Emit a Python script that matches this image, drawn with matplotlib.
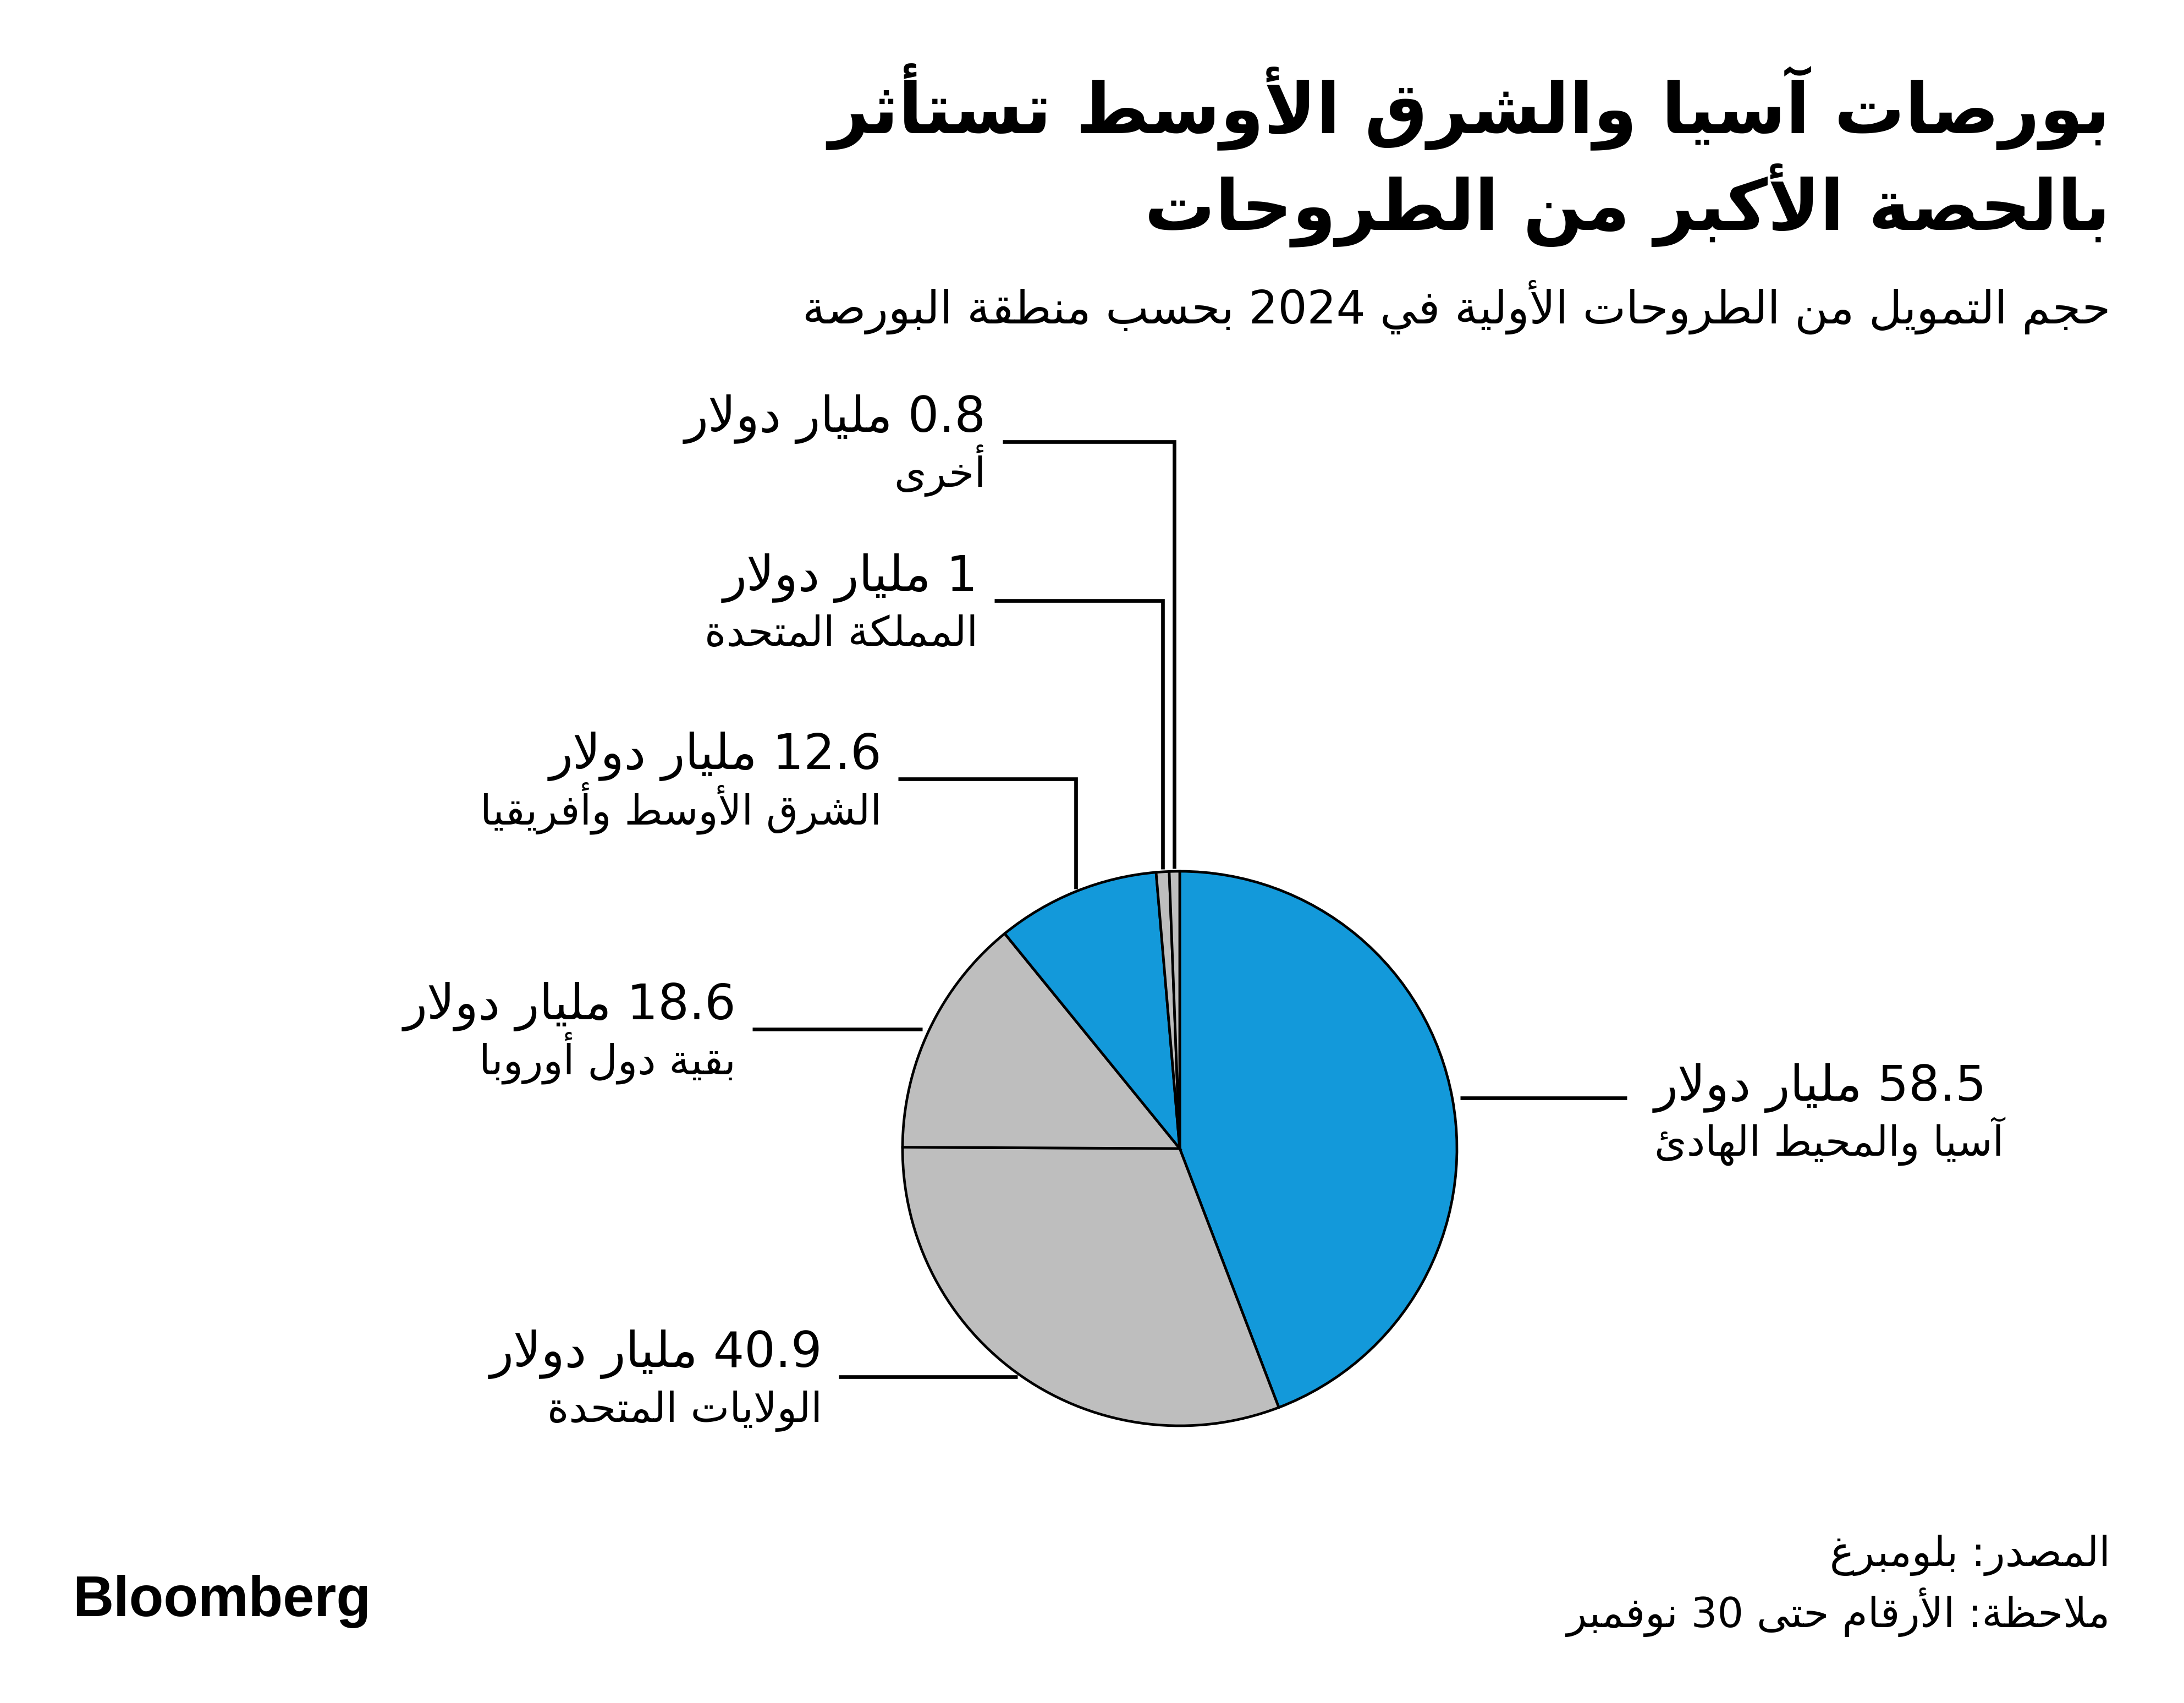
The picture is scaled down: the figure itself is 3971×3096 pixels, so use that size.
import re
import numpy as np
import matplotlib
matplotlib.use("Agg")
import matplotlib.pyplot as plt

# data
regions = ["آسيا والمحيط الهادئ", "الولايات المتحدة", "بقية دول أوروبا",
           "الشرق الأوسط وأفريقيا", "المملكة المتحدة", "أخرى"]
values = [58.5, 40.9, 18.6, 12.6, 1.0, 0.8]
value_labels = ["58.5", "40.9", "18.6", "12.6", "1", "0.8"]
colors = ["#1399DA", "#BEBEBE", "#BEBEBE", "#1399DA", "#BEBEBE", "#BEBEBE"]

title = ["بورصات آسيا والشرق الأوسط تستأثر", "بالحصة الأكبر من الطروحات"]
subtitle = "حجم التمويل من الطروحات الأولية في 2024 بحسب منطقة البورصة"
source = "المصدر: بلومبرغ"
note = "ملاحظة: الأرقام حتى 30 نوفمبر"
unit = "مليار دولار"

# simple arabic shaping (matplotlib has no complex text layout)
FORMS = {
    '\u0621': (0xFE80, 0), '\u0622': (0xFE81, 1), '\u0623': (0xFE83, 1),
    '\u0624': (0xFE85, 1), '\u0625': (0xFE87, 1), '\u0626': (0xFE89, 2),
    '\u0627': (0xFE8D, 1), '\u0628': (0xFE8F, 2), '\u0629': (0xFE93, 1),
    '\u062A': (0xFE95, 2), '\u062B': (0xFE99, 2), '\u062C': (0xFE9D, 2),
    '\u062D': (0xFEA1, 2), '\u062E': (0xFEA5, 2), '\u062F': (0xFEA9, 1),
    '\u0630': (0xFEAB, 1), '\u0631': (0xFEAD, 1), '\u0632': (0xFEAF, 1),
    '\u0633': (0xFEB1, 2), '\u0634': (0xFEB5, 2), '\u0635': (0xFEB9, 2),
    '\u0636': (0xFEBD, 2), '\u0637': (0xFEC1, 2), '\u0638': (0xFEC5, 2),
    '\u0639': (0xFEC9, 2), '\u063A': (0xFECD, 2), '\u0641': (0xFED1, 2),
    '\u0642': (0xFED5, 2), '\u0643': (0xFED9, 2), '\u0644': (0xFEDD, 2),
    '\u0645': (0xFEE1, 2), '\u0646': (0xFEE5, 2), '\u0647': (0xFEE9, 2),
    '\u0648': (0xFEED, 1), '\u0649': (0xFEEF, 1), '\u064A': (0xFEF1, 2),
}
LAMALEF = {'\u0622': 0xFEF5, '\u0623': 0xFEF7, '\u0625': 0xFEF9, '\u0627': 0xFEFB}


def ar(text):
    out = []
    i = 0
    n = len(text)
    while i < n:
        c = text[i]
        if c not in FORMS:
            out.append(c)
            i += 1
            continue
        prev = text[i - 1] if i > 0 else None
        prev_joins = prev in FORMS and FORMS[prev][1] == 2
        nxt = text[i + 1] if i + 1 < n else None
        if c == '\u0644' and nxt in LAMALEF:
            out.append(chr(LAMALEF[nxt] + (1 if prev_joins else 0)))
            i += 2
            continue
        base, t = FORMS[c]
        cp = prev_joins and t > 0
        cn = t == 2 and nxt in FORMS and FORMS[nxt][1] > 0
        if t == 0:
            out.append(chr(base))
        elif t == 1:
            out.append(chr(base + (1 if cp else 0)))
        else:
            out.append(chr(base + {(0, 0): 0, (1, 0): 1, (0, 1): 2, (1, 1): 3}[(cp, cn)]))
        i += 1
    vis = "".join(out)[::-1]
    return re.sub(r'[0-9A-Za-z.]+', lambda m: m.group()[::-1], vis)


W, H = 3971, 3096
fig = plt.figure(figsize=(W / 100, H / 100), dpi=100)
ax = fig.add_axes([0, 0, 1, 1])
FONT = ['DejaVu Sans']


def Y(y):
    return H - y


cx, cy, r = 2145, 2088, 504
ax.pie(values, colors=colors, startangle=90, counterclock=False,
       center=(cx, Y(cy)), radius=r, frame=True,
       wedgeprops=dict(edgecolor="black", linewidth=3.4))
ax.set_xlim(0, W)
ax.set_ylim(0, H)
ax.set_aspect('equal')
ax.axis('off')

# leader layout: (kind, elbow_y, end_x, side, dy)
layout = [
    ("h", None, 2958, "right", 23),
    ("h", None, 1525, "left", 0),
    ("h", None, 1368, "left", 0),
    ("v", 1416, 1633, "left", 0),
    ("v", 1092, 1808, "left", 0),
    ("v", 803, 1823, "left", 0),
]

total = sum(values)
start = 0.0
for v, vl, reg, (kind, ey, ex, side, dy) in zip(values, value_labels, regions, layout):
    frac = v / total * 360
    mid = np.radians(start + frac / 2)
    start += frac
    if kind == "h":
        ax_ = cx + 1.03 * r * np.sin(mid)
        ay = cy - r * np.cos(mid)
        xs, ys = [ax_, ex], [ay, ay]
        ly = ay
    else:
        ax_ = cx + r * np.sin(mid)
        ay = cy - 1.01 * r * np.cos(mid)
        xs, ys = [ax_, ax_, ex], [ay, ey, ey]
        ly = ey
    ax.plot(xs, [Y(y) for y in ys], color="black", lw=4.8,
            solid_joinstyle="miter", solid_capstyle="butt")
    if side == "left":
        tx, ha = ex - 30, "right"
    else:
        tx, ha = ex + 50, "left"
    ax.text(tx, Y(ly - 18 + dy), ar(vl + " " + unit), ha=ha, va="baseline",
            fontsize=64, family=FONT)
    ax.text(tx, Y(ly + 82 + dy), ar(reg), ha=ha, va="baseline",
            fontsize=54, family=FONT)

# titles
ax.text(3837, Y(241), ar(title[0]), ha="right", va="baseline",
        fontsize=92, fontweight="bold", family=FONT)
ax.text(3837, Y(418), ar(title[1]), ha="right", va="baseline",
        fontsize=92, fontweight="bold", family=FONT)
ax.text(3837, Y(588), ar(subtitle), ha="right", va="baseline",
        fontsize=60, family=FONT)

# footer
ax.text(3837, Y(2847), ar(source), ha="right", va="baseline", fontsize=54, family=FONT)
ax.text(3837, Y(2958), ar(note), ha="right", va="baseline", fontsize=54, family=FONT)
ax.text(132, Y(2938), "Bloomberg", ha="left", va="baseline", fontsize=74,
        fontweight="bold", family=['Liberation Sans', 'DejaVu Sans'])

fig.savefig("out.png", dpi=100, facecolor="white")
